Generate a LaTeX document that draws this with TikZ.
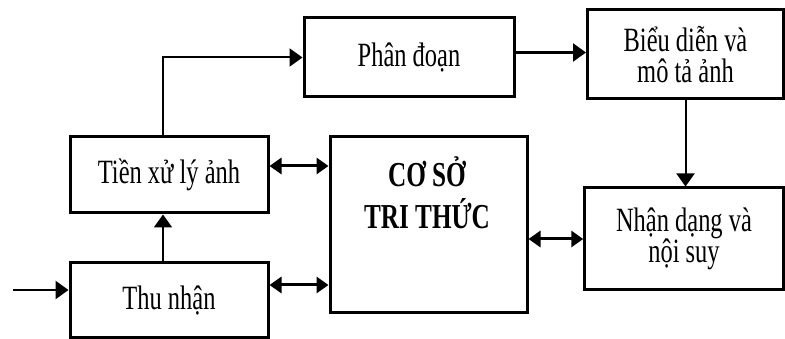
\documentclass[tikz,border=0pt]{standalone}
\usepackage{fontspec}
\setmainfont[FakeStretch=0.72]{Liberation Serif}
\usetikzlibrary{positioning,arrows.meta}

\tikzset{
    box/.style={draw, line width=3pt, inner sep=0pt, align=center,
        font=\fontsize{34}{31}\selectfont},
    link/.style={line width=2.4pt, -{Triangle[length=13pt,width=18pt]}},
    both/.style={line width=3pt,
        {Triangle[length=12pt,width=16pt]}-{Triangle[length=12pt,width=16pt]}},
}

\begin{document}
\begin{tikzpicture}[x=1pt,y=-1pt]
\useasboundingbox (0,0) rectangle (785,339);

%Nodes
\node[box, minimum width=210pt, minimum height=79pt]  (phan)  at (409,57.5)   {Phân đoạn};
\node[box, minimum width=196pt, minimum height=89pt]  (bieu)  at (685.5,54.5) {Biểu diễn và\\mô tả ảnh};
\node[box, minimum width=198pt, minimum height=76pt]  (tien)  at (169,175)    {Tiền xử lý ảnh};
\node[box, minimum width=198pt, minimum height=74pt]  (thu)   at (169,300)    {Thu nhận};
\node[box, minimum width=197pt, minimum height=176pt] (cstt)  at (428.5,225)  {};
\node[font=\fontsize{35}{42}\selectfont\bfseries, align=center]
                                                      (csttx) at (427,193)    {CƠ SỞ\\TRI THỨC};
\node[box, minimum width=198.5pt, minimum height=102pt] (nhan) at (684,239)   {Nhận dạng và\\nội suy};
\coordinate (in) at (13,290);

%Lines
\draw[link] (in) -- (in -| thu.west);
\draw[link, line width=2pt] ([xshift=-6pt]thu.north) -- ([xshift=-6pt]tien.south);
\draw[link, line width=2pt] ([xshift=-6pt]tien.north) |- (phan.west);
\draw[link] ([yshift=5pt]phan.east) -- ([yshift=2pt]bieu.west);
\draw[link, line width=2pt] (bieu.south) -- (bieu.south |- nhan.north);
\draw[both] ([yshift=9pt]tien.east) -- ([yshift=9pt]tien.east -| cstt.west);
\draw[both] ([yshift=15pt]thu.east) -- ([yshift=15pt]thu.east -| cstt.west);
\draw[both] (cstt.east |- nhan.west) -- (nhan.west);
\end{tikzpicture}
\end{document}
